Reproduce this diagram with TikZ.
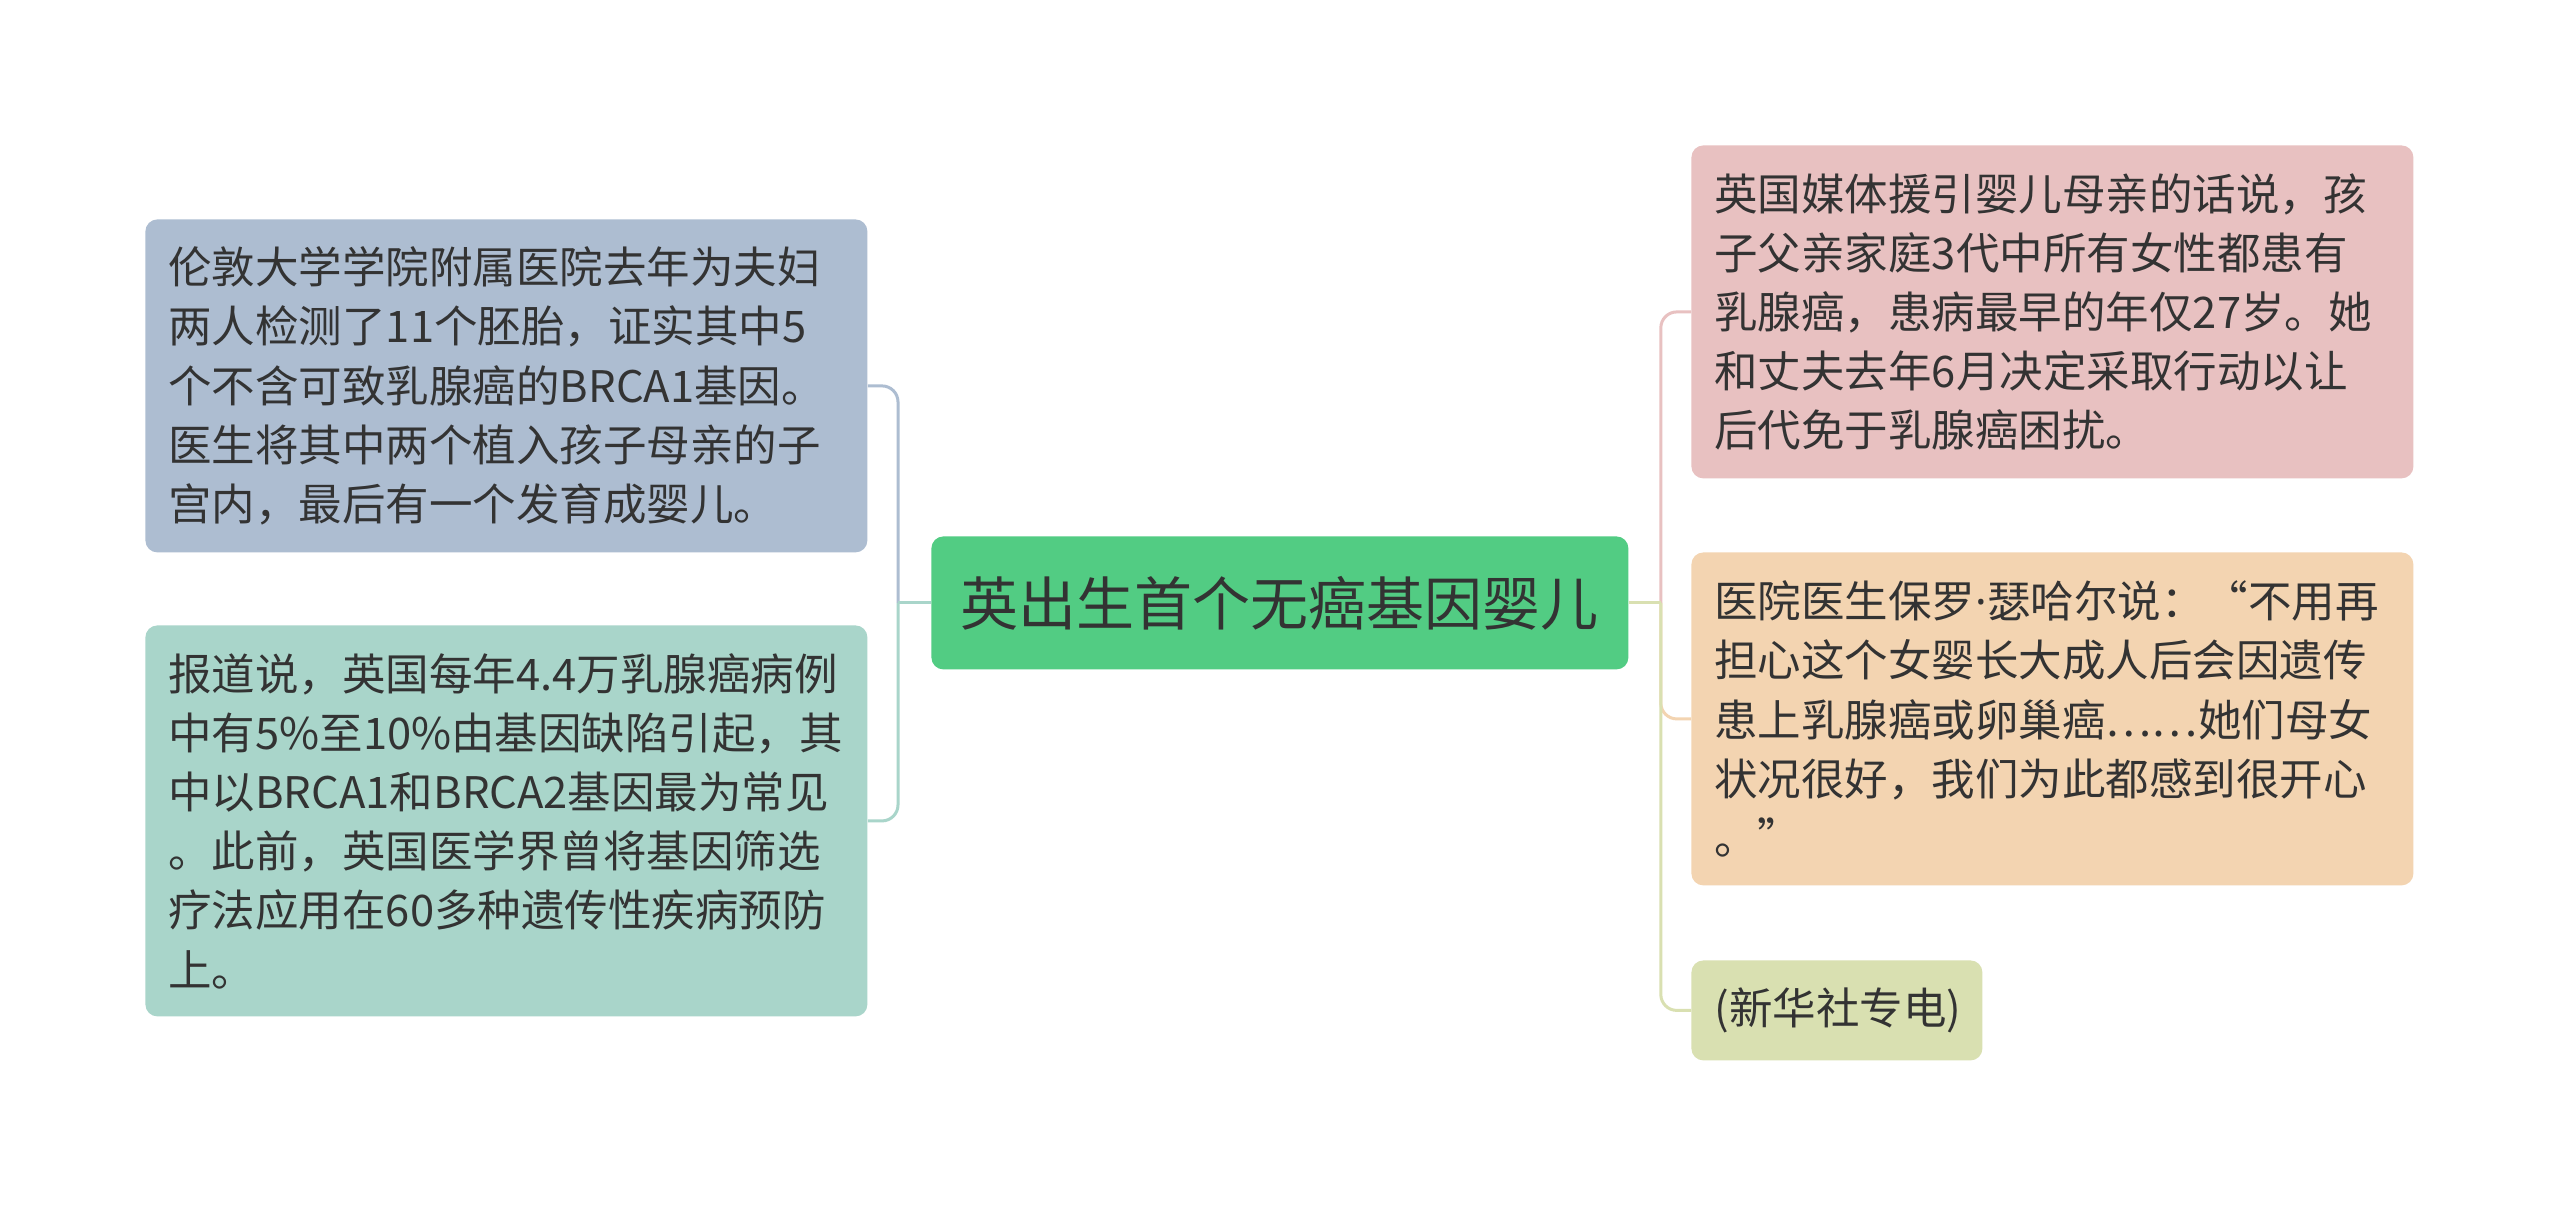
\documentclass[tikz,border=0pt]{standalone}
\usepackage{fontspec}
\setmainfont{Noto Sans CJK SC}
\newfontfamily\latinfont{Noto Sans}
\definecolor{cBlue}{HTML}{ADBDD1}
\definecolor{cTeal}{HTML}{A9D5CA}
\definecolor{cMain}{HTML}{52CC83}
\definecolor{cPink}{HTML}{E8C1C1}
\definecolor{cOrange}{HTML}{F3D4B1}
\definecolor{cLime}{HTML}{D9E0B1}
\definecolor{cText}{HTML}{333333}
\begin{document}
\begin{tikzpicture}[x=0.5pt,y=-0.5pt,
  topic/.style={rounded corners=6pt, inner xsep=11.5pt, inner ysep=0pt, align=left,
    text=cText, font=\fontsize{21.75pt}{29.6pt}\selectfont, anchor=north west},
  maintopic/.style={rounded corners=6pt, inner sep=0pt, align=center,
    text=cText, font=\fontsize{29pt}{34pt}\selectfont, anchor=north west},
  conn/.style={line width=1.5pt},
  branch/.style={conn, rounded corners=8pt}]
\fill[white] (0,0) rectangle (2560,1207);
\useasboundingbox (0,0) rectangle (2560,1207);

\node[maintopic, fill=cMain, minimum width=348.5pt, minimum height=66.5pt] (c) at (931,536) {英出生首个无癌基因婴儿};

\node[topic, fill=cBlue, text width=338pt, minimum height=166.5pt] (b1) at (145,219)
 {伦敦大学学院附属医院去年为夫妇\\两人检测了11个胚胎，证实其中5\\个不含可致乳腺癌的BRCA1基因。\\医生将其中两个植入孩子母亲的子\\宫内，最后有一个发育成婴儿。};
\node[topic, fill=cTeal, text width=338pt, minimum height=195.5pt] (b2) at (145,625)
 {报道说，英国每年4.4万乳腺癌病例\\中有5\%至10\%由基因缺陷引起，其\\中以BRCA1和BRCA2基因最为常见\\。此前，英国医学界曾将基因筛选\\疗法应用在60多种遗传性疾病预防\\上。};

\node[topic, fill=cPink, text width=338pt, minimum height=166.5pt] (r1) at (1691,145)
 {英国媒体援引婴儿母亲的话说，孩\\子父亲家庭3代中所有女性都患有\\乳腺癌，患病最早的年仅27岁。她\\和丈夫去年6月决定采取行动以让\\后代免于乳腺癌困扰。};
\node[topic, fill=cOrange, text width=338pt, minimum height=166.5pt] (r2) at (1691,552)
 {医院医生保罗{\latinfont ·}瑟哈尔说：“不用再\\担心这个女婴长大成人后会因遗传\\患上乳腺癌或卵巢癌……她们母女\\状况很好，我们为此都感到很开心\\。”};
\node[topic, fill=cLime, text width=122.5pt, minimum height=50pt] (r3) at (1691,960)
 {(新华社专电)};

\coordinate (jl) at ([xshift=-16.5pt]c.west);
\coordinate (jr) at ([xshift=16pt]c.east);

\draw[branch, cBlue] (jl) |- (b1.east);
\draw[branch, cTeal] (jl) |- (b2.east);
\draw[conn, cTeal] (c.west) -- (jl);

\draw[branch, cPink] (jr) |- (r1.west);
\draw[branch, cOrange] (jr) |- (r2.west);
\draw[branch, cLime] (jr) |- (r3.west);
\draw[conn, cLime] (c.east) -- (jr);
\end{tikzpicture}
\end{document}
